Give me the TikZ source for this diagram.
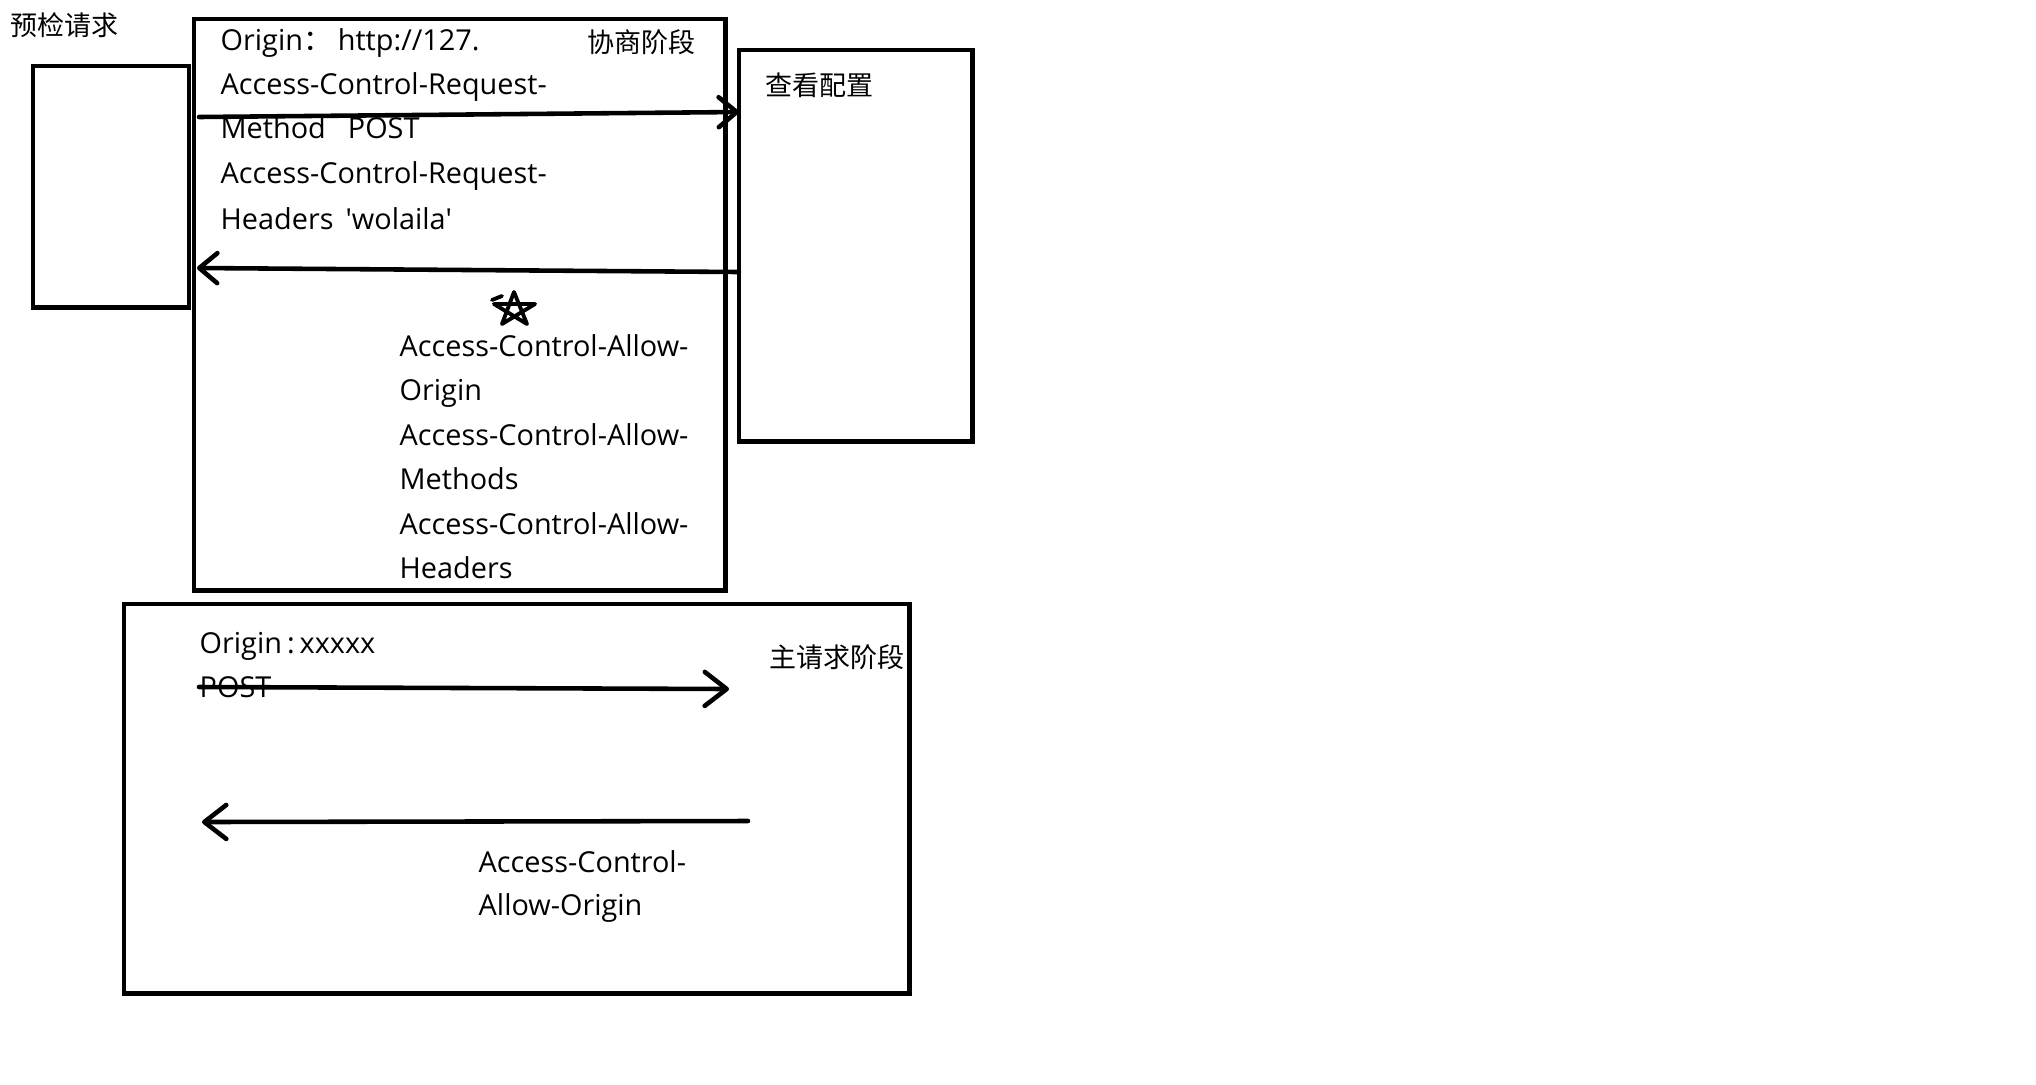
\documentclass[tikz,border=0pt]{standalone}
\usepackage{fontspec}
\setmainfont{Open Sans}
\newfontfamily\cjk{Noto Sans CJK SC}
\usetikzlibrary{arrows.meta}
\begin{document}
\begin{tikzpicture}[x=0.01cm,y=-0.01cm,
  box/.style={draw, line width=1.35pt, inner sep=0pt, outer sep=0pt, rectangle, anchor=north west},
  lbl/.style={anchor=base west, inner sep=0pt, font=\fontsize{8.2pt}{9pt}\selectfont},
  zh/.style={anchor=base west, inner sep=0pt, font=\fontsize{7.68pt}{9pt}\selectfont\cjk},
  flow/.style={line width=1.3pt, line cap=round, -{Straight Barb[length=0.22cm,width=0.34cm,line cap=round,line join=round]}},
  smallflow/.style={line width=1.3pt, line cap=round, -{Straight Barb[length=0.18cm,width=0.3cm,line cap=round,line join=round]}}]
\fill[white] (0,0) rectangle (2036,1084);
% boxes
\node[box, minimum width=1.56cm, minimum height=2.41cm] (client) at (33,66) {};
\node[box, minimum width=5.31cm, minimum height=5.71cm] (nego) at (194,19) {};
\node[box, minimum width=2.33cm, minimum height=3.91cm] (server) at (739,50) {};
\node[box, minimum width=7.85cm, minimum height=3.89cm] (main) at (124,604) {};
% chinese labels
\node[zh] (t1) at (10,35) {预检请求};
\node[zh] (t2) at (587,52) {协商阶段};
\node[zh] (t3) at (765,95) {查看配置};
\node[zh] (t4) at (769,667) {主请求阶段};
% request headers
\node[lbl] (r1) at (220,50) {Origin{\cjk ：}\hspace{0.06cm}http://127.};
\node[lbl] (r2) at (220,94) {Access-Control-Request-};
\node[lbl] (r3) at (220,138) {Method\hspace{0.22cm}POST};
\node[lbl] (r4) at (220,183) {Access-Control-Request-};
\node[lbl] (r5) at (220,229) {Headers\hspace{0.12cm}\textquotesingle wolaila\textquotesingle};
% response headers
\node[lbl] (a1) at (399,356) {Access-Control-Allow-};
\node[lbl] (a2) at (399,400) {Origin};
\node[lbl] (a3) at (399,445) {Access-Control-Allow-};
\node[lbl] (a4) at (399,489) {Methods};
\node[lbl] (a5) at (399,534) {Access-Control-Allow-};
\node[lbl] (a6) at (399,578) {Headers};
% main request
\node[lbl] (m1) at (199,653) {Origin\hspace{0.05cm}:\hspace{0.05cm}xxxxx};
\node[lbl] (m2) at (199,697) {POST};
\node[lbl] (m3) at (478,872) {Access-Control-};
\node[lbl] (m4) at (478,915) {Allow-Origin};
% connectors
\coordinate (reqS) at (199,117);
\coordinate (reqE) at (739,112);
\coordinate (resS) at (739,272);
\coordinate (resE) at (197,268);
\coordinate (mreqS) at (199,687);
\coordinate (mreqE) at (729,689);
\coordinate (mresS) at (748,821);
\coordinate (mresE) at (202,822);
\draw[smallflow] (reqS) -- (reqE);
\draw[smallflow] (resS) -- (resE);
\draw[flow] (mreqS) -- (mreqE);
\draw[flow] (mresS) -- (mresE);
% star doodle
\draw[line width=1.1pt, line join=round, line cap=round]
  (514,292) -- (527,324) -- (494,304) -- (535,304) -- (502,324) -- cycle
  (492,300) -- (502,296);
\end{tikzpicture}
\end{document}
